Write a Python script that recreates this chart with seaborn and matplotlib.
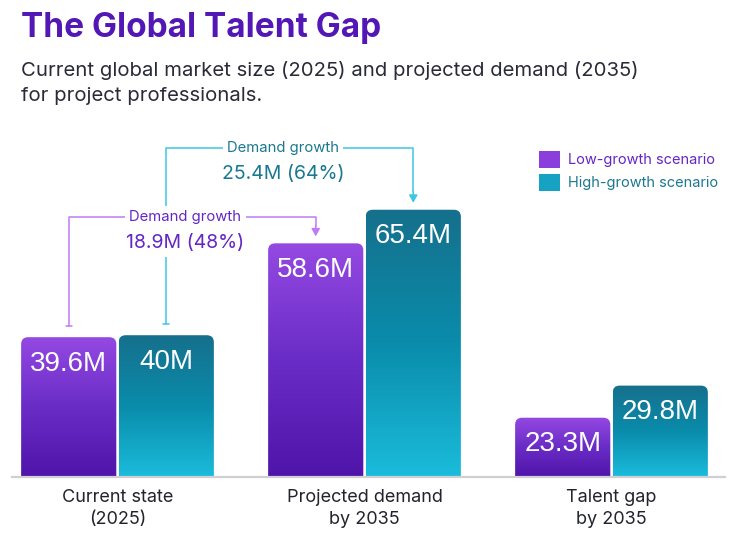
import numpy as np
import pandas as pd
import matplotlib
matplotlib.use("Agg")
import matplotlib.pyplot as plt
import seaborn as sns
from matplotlib.patches import FancyBboxPatch, Patch
from matplotlib.colors import LinearSegmentedColormap

# ------------------------------
# data
# ------------------------------
categories = ["Current state\n(2025)", "Projected demand\nby 2035", "Talent gap\nby 2035"]
scenarios = ["Low-growth scenario", "High-growth scenario"]
low_vals = [39.6, 58.6, 23.3]
high_vals = [40.0, 65.4, 29.8]
low_labels = ["39.6M", "58.6M", "23.3M"]
high_labels = ["40M", "65.4M", "29.8M"]
growth_titles = ["Demand growth", "Demand growth"]
growth_values = ["18.9M (48%)", "25.4M (64%)"]

df = pd.DataFrame({
    "category": categories * 2,
    "scenario": [scenarios[0]] * 3 + [scenarios[1]] * 3,
    "value": low_vals + high_vals,
})

purple_cmap = LinearSegmentedColormap.from_list("p", ["#4f14a9", "#6a2cc6", "#9449e2"])
teal_cmap = LinearSegmentedColormap.from_list("t", ["#1bbcdc", "#0a8cab", "#15708c"])
purple_txt = "#6426c4"
teal_txt = "#1a7891"
purple_line = "#c07cf5"
teal_line = "#3cc8e3"

sns.set_style("white")
plt.rcParams["font.family"] = ["Inter", "DejaVu Sans"]

W, H = 745, 535
fig = plt.figure(figsize=(W / 100, H / 100), dpi=100)
fig.patch.set_facecolor("white")

# axes placed in pixel terms
ax_l, ax_r, ax_b, ax_t = 12, 725, 477, 130
ax = fig.add_axes([ax_l / W, (H - ax_b) / H, (ax_r - ax_l) / W, (ax_b - ax_t) / H])

sns.barplot(data=df, x="category", y="value", hue="scenario", hue_order=scenarios,
            palette=["#7a35d4", "#0f8aa8"], width=0.79, ax=ax, legend=False)

unit_px = 247.0
x0_px = 117.5
ax.set_xlim((ax_l - x0_px) / unit_px, (ax_r - x0_px) / unit_px)
y_lo = 11.3
px_per_m = 4.94
ax.set_ylim(y_lo, y_lo + (ax_b - ax_t) / px_per_m)

# replace bars with gradient, rounded-top bars
rx = 7 / unit_px
ry = 7 / px_per_m
gap = 1.2 / unit_px
grad = np.linspace(0, 1, 256).reshape(-1, 1)
bars = sorted(ax.patches, key=lambda p: p.get_x())
bar_info = []
for p in bars:
    x = p.get_x() + gap
    w = p.get_width() - 2 * gap
    top = p.get_height()
    is_low = p.get_x() + p.get_width() / 2 < round(p.get_x() + p.get_width() / 2)
    p.set_visible(False)
    cmap = purple_cmap if is_low else teal_cmap
    img = ax.imshow(grad, extent=[x, x + w, y_lo, top], origin="lower", aspect="auto",
                    cmap=cmap, zorder=2)
    clip = FancyBboxPatch((x, y_lo - 5), w, top - y_lo + 5,
                          boxstyle=f"round,pad=0,rounding_size={rx}",
                          mutation_aspect=ry / rx, transform=ax.transData,
                          facecolor="none", edgecolor="none")
    ax.add_patch(clip)
    img.set_clip_path(clip)
    bar_info.append((x + w / 2, top, is_low))

low_bars = [b for b in bar_info if b[2]]
high_bars = [b for b in bar_info if not b[2]]
for (cx, top, _), lab in zip(low_bars, low_labels):
    ax.annotate(lab, (cx, top), xytext=(0, -19), textcoords="offset points",
                ha="center", va="center", color="white", fontsize=20,
                family=["Liberation Sans"], zorder=5)
for (cx, top, _), lab in zip(high_bars, high_labels):
    ax.annotate(lab, (cx, top), xytext=(0, -19), textcoords="offset points",
                ha="center", va="center", color="white", fontsize=20,
                family=["Liberation Sans"], zorder=5)

# demand growth connectors
def connector(start, end, level, color, txtcolor, title, value, tx):
    sx, sy = start
    ex, ey = end
    ax.plot([sx, sx, ex, ex], [sy + 2.2, level, level, ey + 3.5], color=color, lw=1.1,
            zorder=3, solid_joinstyle="round")
    ax.plot([sx - 0.012, sx + 0.012], [sy + 2.2, sy + 2.2], color=color, lw=1.1, zorder=3)
    ax.annotate("", xy=(ex, ey + 1.4), xytext=(ex, ey + 3.6),
                arrowprops=dict(arrowstyle="-|>,head_length=0.45,head_width=0.25",
                                color=color, lw=1.1, shrinkA=0, shrinkB=0), zorder=3)
    ax.text(tx, level, title, ha="center", va="center", color=txtcolor, fontsize=10.7,
            zorder=4, bbox=dict(facecolor="white", edgecolor="none", pad=3))
    ax.text(tx, level - 5.2, value, ha="center", va="center", color=txtcolor,
            fontsize=14, zorder=4,
            bbox=dict(facecolor="white", edgecolor="none", pad=4))

connector((low_bars[0][0], low_vals[0]), (low_bars[1][0], low_vals[1]), 63.9,
          purple_line, purple_txt, growth_titles[0], growth_values[0], 0.275)
connector((high_bars[0][0], high_vals[0]), (high_bars[1][0], high_vals[1]), 77.9,
          teal_line, teal_txt, growth_titles[1], growth_values[1], 0.67)

# axes styling
ax.set_xlabel("")
ax.set_ylabel("")
ax.set_yticks([])
ax.tick_params(axis="x", length=0, pad=9, labelsize=13, labelcolor="#23232e")
for t in ax.get_xticklabels():
    t.set_linespacing(1.35)
for s in ["left", "right", "top"]:
    ax.spines[s].set_visible(False)
ax.spines["bottom"].set_color("#cfcfd4")
ax.spines["bottom"].set_linewidth(1.6)
ax.spines["bottom"].set_zorder(6)
ax.set_facecolor("none")

# legend
handles = [Patch(facecolor="#8a3fdc", edgecolor="none"),
           Patch(facecolor="#16a2c2", edgecolor="none")]
leg = fig.legend(handles, scenarios, loc="upper left",
                 bbox_to_anchor=(526 / W, 1 - 138 / H), frameon=False,
                 fontsize=10.5, handlelength=1.4, handleheight=1.4,
                 handletextpad=0.55, labelspacing=0.4)
for t, c in zip(leg.get_texts(), [purple_txt, teal_txt]):
    t.set_color(c)

# title and subtitle
fig.text(21 / W, 1 - 37 / H, "The Global Talent Gap", fontsize=24, fontweight="bold",
         color="#5217b4", ha="left", va="baseline")
fig.text(21 / W, 1 - 76 / H, "Current global market size (2025) and projected demand (2035)",
         fontsize=14.6, color="#2a2a38", ha="left", va="baseline")
fig.text(21 / W, 1 - 101 / H, "for project professionals.",
         fontsize=14.6, color="#2a2a38", ha="left", va="baseline")

fig.savefig("out.png", dpi=100, facecolor="white")
